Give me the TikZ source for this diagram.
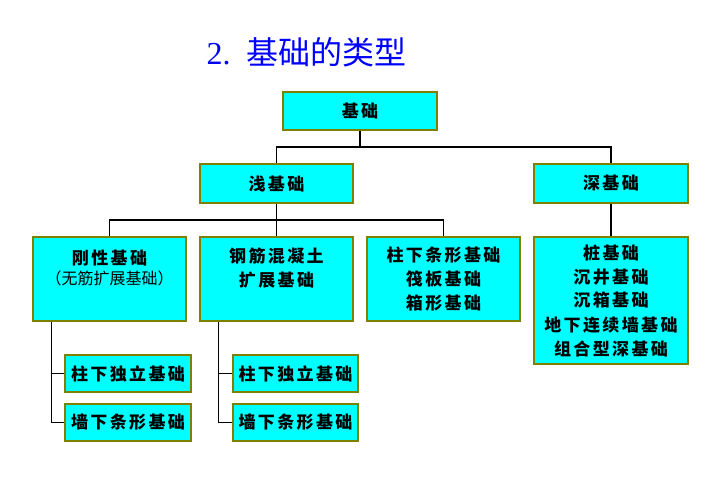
\documentclass[tikz,border=0pt]{standalone}
\usepackage{fontspec}
\usepackage{xcolor}
\setmainfont{Liberation Serif}
\newfontfamily\cjk{Noto Sans CJK SC}
\newfontfamily\cjkwide{Noto Sans CJK SC}[LetterSpace=14]
\usetikzlibrary{
    positioning,
    calc
}
\definecolor{kastenrand}{RGB}{128,128,0}
\definecolor{kastenfill}{RGB}{0,255,255}

\begin{document}
\begin{tikzpicture}[x=1pt, y=-1pt,
    kasten/.style={draw=kastenrand, fill=kastenfill, line width=1.4pt, inner sep=0pt,
        align=center, font=\fontsize{17}{24}\selectfont\cjkwide\bfseries},
    verbindung/.style={line width=1.2pt, black}]
                        \useasboundingbox (0, 0) rectangle (710, 480);
                        \node[anchor=west, text=blue, font=\fontsize{32}{32}\selectfont] (titel) at (203, 52)
                            {2.\hspace{16pt}{\cjk 基础的类型}};
                        % erste und zweite Ebene
                        \node[kasten, minimum width=154pt, minimum height=38pt] (jichu) at (360, 111) {基础};
                        \node[kasten, minimum width=153pt, minimum height=39pt] (qian) at (276.5, 183.5) {浅基础};
                        \node[kasten, minimum width=154pt, minimum height=39pt] (shen) at (611, 183.5) {深基础};
                        % dritte Ebene
                        \node[kasten, minimum width=153pt, minimum height=84pt] (gangxing) at (109.5, 279)
                            {刚性基础\\[-4pt]{\fontsize{16}{24}\selectfont\cjk\mdseries （无筋扩展基础）}\\~};
                        \node[kasten, minimum width=153pt, minimum height=84pt] (gangjin) at (276.5, 279)
                            {钢筋混凝土\\扩展基础\\~};
                        \node[kasten, minimum width=153pt, minimum height=84pt] (zhuxia) at (443.5, 279)
                            {柱下条形基础\\筏板基础\\箱形基础};
                        \node[kasten, minimum width=154pt, minimum height=127pt] (zhuang) at (611, 300.5)
                            {桩基础\\沉井基础\\沉箱基础\\地下连续墙基础\\组合型深基础};
                        % vierte Ebene
                        \node[kasten, minimum width=126pt, minimum height=37pt] (duliA) at (128, 373.5) {柱下独立基础};
                        \node[kasten, minimum width=126pt, minimum height=37pt] (tiaoxingA) at (128, 422.5) {墙下条形基础};
                        \node[kasten, minimum width=125pt, minimum height=37pt] (duliB) at (295.5, 373.5) {柱下独立基础};
                        \node[kasten, minimum width=125pt, minimum height=37pt] (tiaoxingB) at (295.5, 422.5) {墙下条形基础};
                        \coordinate (bus1) at (360, 147);
                        \coordinate (bus2) at (277, 220);
                        \draw[verbindung]
                        (jichu.south) -- (bus1)
                        (qian.north) |- (bus1) -| (shen.north)
                        (qian.south) -- (gangjin.north)
                        (gangxing.north) |- (bus2) -| (zhuxia.north)
                        (shen.south) -- (zhuang.north)
                        ([xshift=19pt]gangxing.south west) |- (duliA.west)
                        ([xshift=19pt]gangxing.south west) |- (tiaoxingA.west)
                        ([xshift=19pt]gangjin.south west) |- (duliB.west)
                        ([xshift=19pt]gangjin.south west) |- (tiaoxingB.west);
                    \end{tikzpicture}
\end{document}
